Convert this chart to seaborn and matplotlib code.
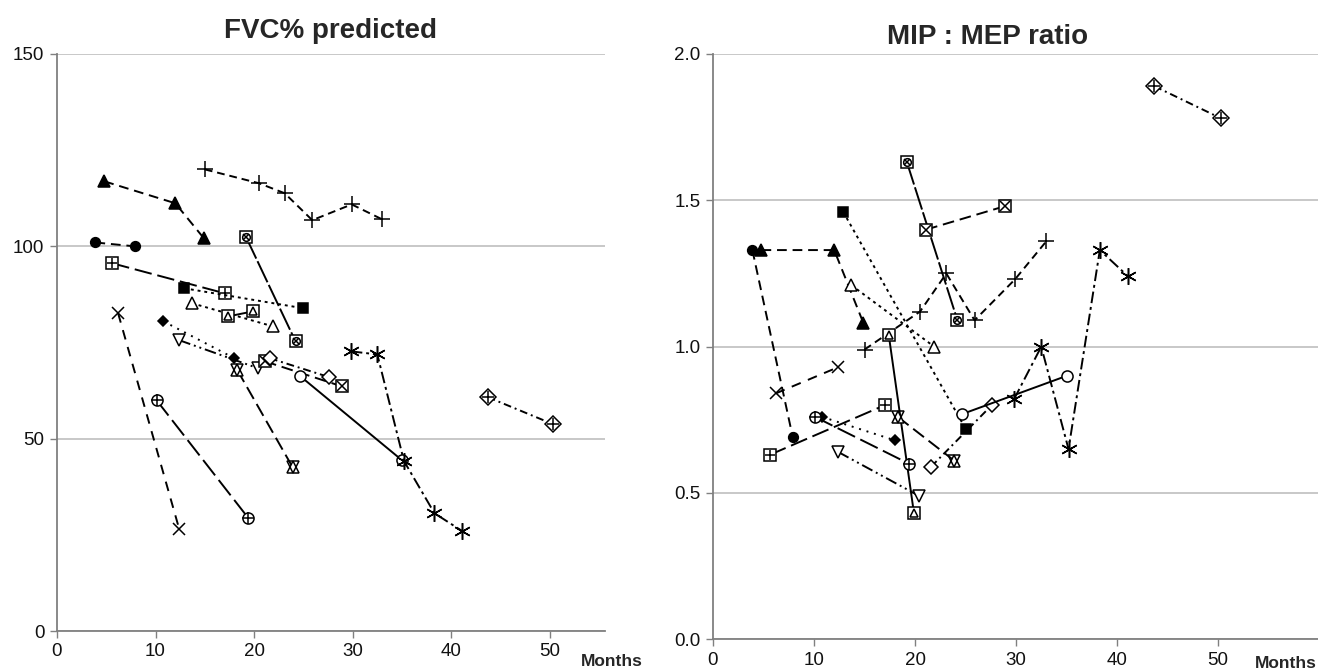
import matplotlib
matplotlib.use('Agg')
import matplotlib.pyplot as plt
import seaborn as sns

##################################################################
# one list per patient: visit months, FVC % predicted and MIP:MEP ratio
months = [
    [4.8, 12.0, 14.9],                      # filled triangle
    [3.9, 7.9],                             # filled circle
    [15.0, 20.5, 23.1, 25.9, 29.9, 33.0],   # plus
    [5.6, 17.0],                            # boxed plus
    [12.9, 25.0],                           # filled square
    [13.7, 21.9],                           # open triangle
    [17.4, 19.9],                           # boxed triangle
    [19.2, 24.2],                           # boxed circle-x
    [6.2, 12.4],                            # x
    [10.8, 18.0],                           # filled diamond
    [12.4, 20.4],                           # down triangle
    [18.3, 23.9],                           # hexagram
    [21.1, 28.9],                           # boxed x
    [21.6, 27.6],                           # open diamond
    [24.7, 35.0],                           # open circle
    [29.8, 32.5, 35.2, 38.3, 41.1],         # asterisk
    [10.1, 19.4],                           # circled plus
    [43.7, 50.3],                           # diamond plus
]
fvc = [
    [116.9, 111.2, 102.1],
    [101.0, 100.0],
    [120.0, 116.4, 113.8, 106.8, 110.9, 107.0],
    [95.6, 87.8],
    [89.1, 83.9],
    [85.2, 79.2],
    [81.8, 83.1],
    [102.3, 75.3],
    [82.6, 26.5],
    [80.5, 70.9],
    [75.6, 68.3],
    [67.8, 42.6],
    [70.1, 63.6],
    [70.9, 66.0],
    [66.2, 44.4],
    [72.7, 71.9, 44.2, 30.6, 26.0],
    [60.0, 29.4],
    [60.8, 53.8],
]
ratio = [
    [1.33, 1.33, 1.08],
    [1.33, 0.69],
    [0.99, 1.12, 1.25, 1.09, 1.23, 1.36],
    [0.63, 0.80],
    [1.46, 0.72],
    [1.21, 1.00],
    [1.04, 0.43],
    [1.63, 1.09],
    [0.84, 0.93],
    [0.76, 0.68],
    [0.64, 0.49],
    [0.76, 0.61],
    [1.40, 1.48],
    [0.59, 0.80],
    [0.77, 0.90],
    [0.82, 1.00, 0.65, 1.33, 1.24],
    [0.76, 0.60],
    [1.89, 1.78],
]
fvc_ticks = [0, 50, 100, 150]
ratio_ticks = [0.0, 0.5, 1.0, 1.5, 2.0]
month_ticks = [0, 10, 20, 30, 40, 50]

##################################################################
# line style and marker layers (marker, size, face) for each patient
linestyles = [
    (0, (5, 3)), (0, (5, 3)), (0, (4, 2.5)), (0, (9, 3)), (0, (1.5, 2)),
    (0, (1.5, 2)), '-', (0, (12, 1.5)), (0, (5, 4)), (0, (1, 3)),
    (0, (6, 2, 1, 2, 1, 2)), (0, (7, 3)), (0, (6, 3)), (0, (4, 2, 1, 2)),
    '-', (0, (6, 2, 1.5, 2)), (0, (10, 3)), (0, (4, 2, 1, 2)),
]
markers = [
    [('^', 8, 'k')],
    [('o', 7, 'k')],
    [('+', 12, None)],
    [('s', 8, 'w'), ('+', 7.5, None)],
    [('s', 7, 'k')],
    [('^', 9, 'w')],
    [('s', 8, 'w'), ('^', 5.5, 'w')],
    [('s', 8, 'w'), ('o', 5.5, 'w'), ('x', 4, None)],
    [('x', 9, None)],
    [('D', 5, 'k')],
    [('v', 9, 'w')],
    [('^', 8, 'w'), ('v', 8, 'n')],
    [('s', 8, 'w'), ('x', 6.5, None)],
    [('D', 7.5, 'w')],
    [('o', 8, 'w')],
    [((6, 2, 0), 12, None)],
    [('o', 8, 'w'), ('+', 8, None)],
    [('D', 8, 'w'), ('+', 8, None)],
]
faces = {'k': 'black', 'w': 'white', 'n': 'none'}

##################################################################
sns.set_style('ticks')
plt.rcParams['font.family'] = ['Liberation Sans', 'DejaVu Sans']


def draw(ax, x, y, ls, layers):
    for i, (mk, ms, face) in enumerate(layers):
        kw = dict(marker=mk, markersize=ms, markeredgecolor='black', markeredgewidth=1.1)
        if face is not None:
            kw['markerfacecolor'] = faces[face]
        sns.lineplot(x=x, y=y, ax=ax, color='black', errorbar=None, sort=False,
                     linewidth=1.4, linestyle=ls if i == 0 else 'none', **kw)


W, H = 1318, 671
fig = plt.figure(figsize=(W / 100, H / 100), dpi=100)
ax1 = fig.add_axes([57 / W, (H - 631) / H, 548 / W, 577 / H])
ax2 = fig.add_axes([713 / W, (H - 639.3) / H, 605 / W, 585.3 / H])

for k in range(len(months)):
    draw(ax1, months[k], fvc[k], linestyles[k], markers[k])
    draw(ax2, months[k], ratio[k], linestyles[k], markers[k])

ax1.set_xlim(0, 55.6)
ax1.set_ylim(0, 150)
ax1.set_yticks(fvc_ticks)
ax2.set_xlim(0, 59.9)
ax2.set_ylim(0, 2.0)
ax2.set_yticks(ratio_ticks)
ax2.set_yticklabels(['%.1f' % t for t in ratio_ticks])

for ax in [ax1, ax2]:
    ax.set_xticks(month_ticks)
    ax.set_xlabel('')
    ax.set_ylabel('')
    ax.yaxis.grid(True, color='#c4c4c4', linewidth=1.3)
    ax.set_axisbelow(True)
    ax.spines['top'].set_visible(False)
    ax.spines['right'].set_visible(False)
    for s in ['left', 'bottom']:
        ax.spines[s].set_color('#808080')
        ax.spines[s].set_linewidth(1.3)
    ax.tick_params(direction='out', length=5, width=1, color='#808080',
                   labelsize=13.5, pad=4, labelcolor='#111111')

title_font = ['Liberation Sans', 'DejaVu Sans']
fig.text(330 / W, 1 - 31 / H, 'FVC% predicted', ha='center', va='center',
         fontsize=20, fontweight='bold', family=title_font)
fig.text(988 / W, 1 - 37 / H, 'MIP : MEP ratio', ha='center', va='center',
         fontsize=20, fontweight='bold', family=title_font)
fig.text(612 / W, 1 - 661 / H, 'Months', ha='center', va='center',
         fontsize=12.5, fontweight='bold', family=title_font)
fig.text(1286 / W, 1 - 663 / H, 'Months', ha='center', va='center',
         fontsize=12.5, fontweight='bold', family=title_font)

fig.savefig('out.png', dpi=100)
